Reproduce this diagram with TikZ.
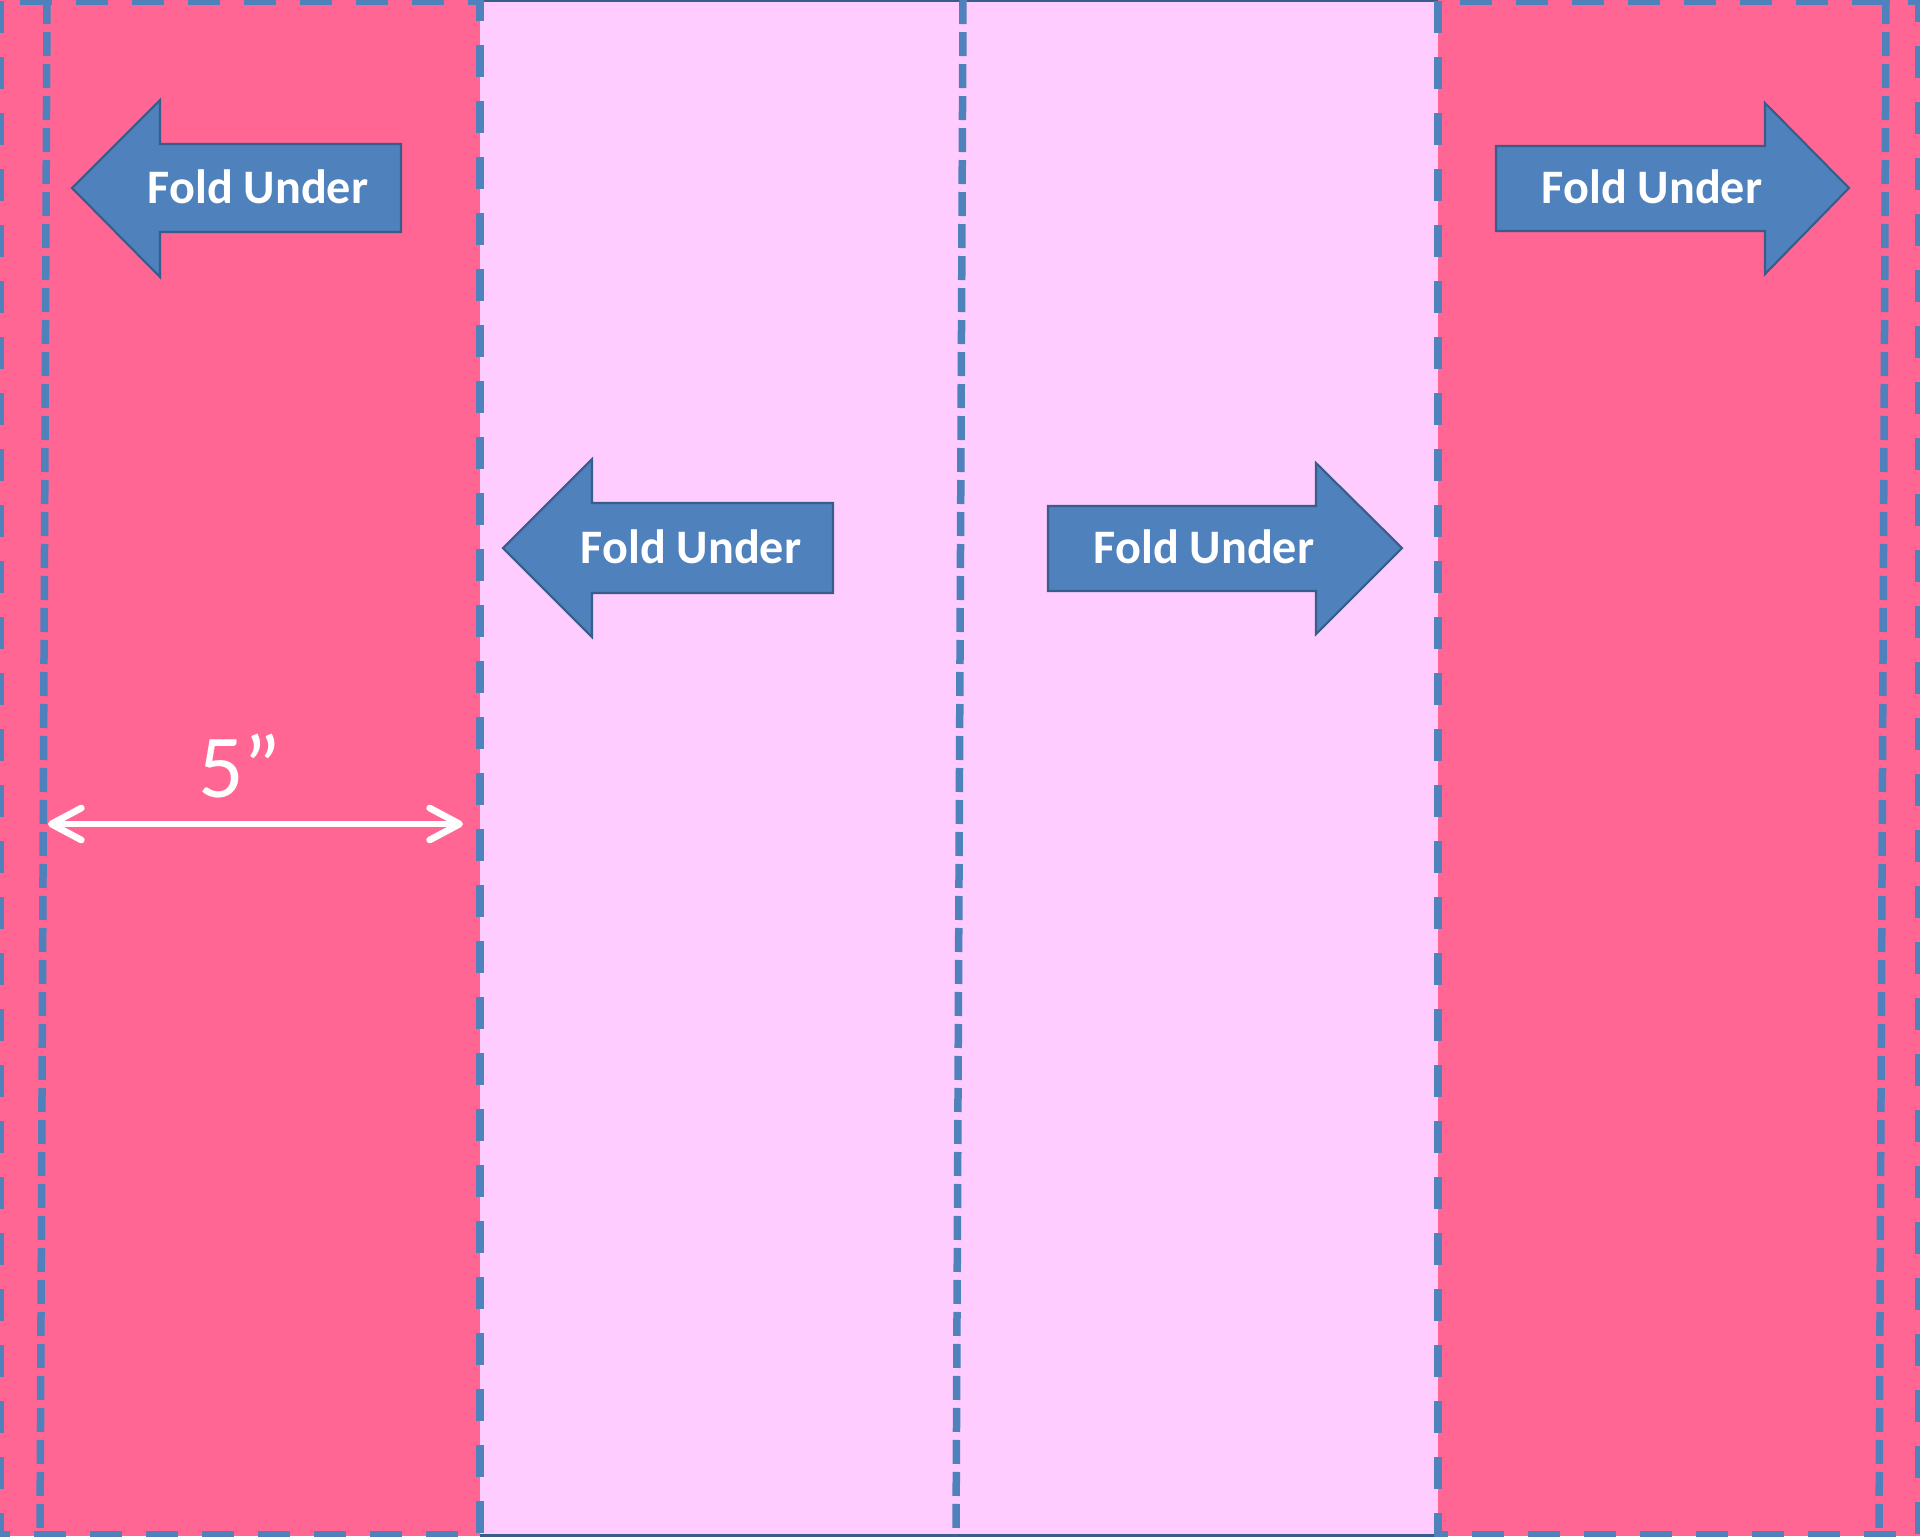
\documentclass[tikz,border=0pt]{standalone}
\usepackage{fontspec}
\setmainfont{Carlito}
\usetikzlibrary{arrows.meta,positioning}
\definecolor{hotpink}{HTML}{FF6694}
\definecolor{palepink}{HTML}{FFCCFF}
\definecolor{foldblue}{HTML}{4F81BD}
\definecolor{edgeblue}{HTML}{385D8A}

\begin{document}
\begin{tikzpicture}[x=0.1mm,y=-0.1mm,
  longdash/.style={draw=foldblue,line width=0.75mm,dash pattern=on 3.2mm off 2.4mm},
  shortdash/.style={draw=foldblue,line width=0.75mm,dash pattern=on 2.4mm off 0.8mm},
  blk/.style={fill=foldblue,draw=edgeblue,line width=0.6pt,line join=miter},
  lbl/.style={text=white,font=\fontsize{13.7}{16}\selectfont\bfseries,anchor=base,inner sep=0pt},
  dim/.style={draw=white,line width=0.67mm,
    {Straight Barb[length=3mm,width=3.2mm,round]}-{Straight Barb[length=3mm,width=3.2mm,round]}}]
  \useasboundingbox (0,0) rectangle (1920,1536);
  \fill[hotpink] (0,0) rectangle (1920,1536);
  % centre panel
  \fill[palepink] (480,0) rectangle (1438,1536);
  \draw[edgeblue,line width=1pt] (480,0) -- (1438,0) (480,1536) -- (1438,1536);
  \draw[shortdash] (963,0) -- (956,1536);
  % side flaps
  \draw[longdash] (0,1) rectangle (480,1535);
  \draw[longdash] (1438,1) rectangle (1919,1535);
  \draw[shortdash] (47,0) -- (40,1536);
  \draw[shortdash] (1886,0) -- (1879,1536);
  % fold arrows
  \draw[blk] (72,188) -- (160,100) -- (160,144) -- (401,144) -- (401,232) -- (160,232) -- (160,277) -- cycle;
  \draw[blk] (1496,146) -- (1765,146) -- (1765,103) -- (1849,188) -- (1765,274) -- (1765,231) -- (1496,231) -- cycle;
  \draw[blk] (503,548) -- (592,459) -- (592,503) -- (833,503) -- (833,593) -- (592,593) -- (592,637) -- cycle;
  \draw[blk] (1048,506) -- (1316,506) -- (1316,463) -- (1402,548) -- (1316,634) -- (1316,591) -- (1048,591) -- cycle;
  \node[lbl] (ftl) at (258,203)  {Fold Under};
  \node[lbl] (ftr) at (1652,203) {Fold Under};
  \node[lbl] (fml) at (691,563)  {Fold Under};
  \node[lbl] (fmr) at (1204,563) {Fold Under};
  % flap width
  \coordinate (wl) at (48,824);
  \coordinate (wr) at (463,824);
  \draw[dim] (wl) -- (wr);
  \node[text=white,font=\fontsize{25.6}{30}\selectfont,anchor=base,inner sep=0pt] (wid) at (240,797) {5”};
\end{tikzpicture}
\end{document}
